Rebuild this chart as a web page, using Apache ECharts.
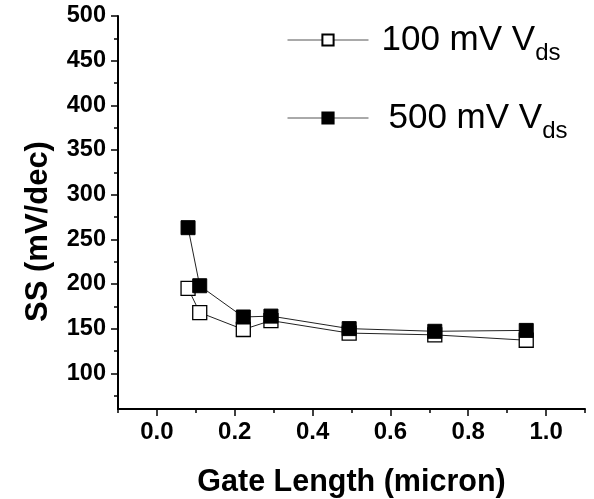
<!DOCTYPE html>
<html>
<head>
<meta charset="utf-8">
<script src="https://cdn.jsdelivr.net/npm/echarts@6/dist/echarts.min.js"></script>
<style>html,body{margin:0;padding:0;background:#fff;}#c{width:594px;height:499px;}</style>
</head>
<body>
<div id="c"></div>
<script>
// Data
var gateLength = [0.08, 0.11, 0.222, 0.293, 0.494, 0.714, 0.949];
var ss100 = [195, 168, 149, 159, 145, 143, 137];
var ss500 = [263, 198, 163, 164, 150, 147, 148];
var seriesNames = ['100 mV Vds', '500 mV Vds'];
var xMajorTicks = [0.0, 0.2, 0.4, 0.6, 0.8, 1.0];
var xMinorTicks = [-0.1, 0.1, 0.3, 0.5, 0.7, 0.9, 1.1];
var yMajorTicks = [100, 150, 200, 250, 300, 350, 400, 450, 500];
var yMinorTicks = [75, 125, 175, 225, 275, 325, 375, 425, 475];

function pairs(xs, ys) { return xs.map(function (x, i) { return [x, ys[i]]; }); }

var FONT = '"Liberation Sans", Arial, sans-serif';
var chart = echarts.init(document.getElementById('c'));

function legendRich(padLeft) {
  return {
    m: { fontSize: 35, fontFamily: FONT, color: '#000', padding: [0, 0, 0, padLeft], lineHeight: 40 },
    s: { fontSize: 24, fontFamily: FONT, color: '#000', lineHeight: 40, padding: [26, 0, 0, 0] }
  };
}

chart.setOption({
  animation: false,
  backgroundColor: '#fff',
  grid: { left: 118, right: 9, top: 16, bottom: 90, containLabel: false, outerBoundsMode: 'none' },
  legend: [
    {
      data: [seriesNames[0]], left: 282, top: 10, itemWidth: 81, itemHeight: 14,
      formatter: function () { return '{m|100 mV V}{s|ds}'; },
      lineStyle: { color: '#555', width: 1 },
      textStyle: { rich: legendRich(8) }, selectedMode: false
    },
    {
      data: [seriesNames[1]], left: 282, top: 88, itemWidth: 81, itemHeight: 14,
      formatter: function () { return '{m|500 mV V}{s|ds}'; },
      lineStyle: { color: '#555', width: 1 },
      textStyle: { rich: legendRich(15) }, selectedMode: false
    }
  ],
  xAxis: [
    {
      type: 'value', min: -0.1, max: 1.1,
      name: 'Gate Length (micron)', nameLocation: 'middle', nameGap: 58,
      nameTextStyle: { fontSize: 30.5, fontWeight: 'bold', fontFamily: FONT, color: '#000' },
      axisLine: { show: true, onZero: false, lineStyle: { color: '#000', width: 2 } },
      axisTick: { show: true, inside: false, length: 7, customValues: xMajorTicks, lineStyle: { color: '#000', width: 1.5 } },
      axisLabel: { show: true, margin: 11, customValues: xMajorTicks, fontSize: 24, fontWeight: 'bold', fontFamily: FONT, color: '#000',
        formatter: function (v) { return v.toFixed(1); } },
      splitLine: { show: false }
    },
    {
      type: 'value', min: -0.1, max: 1.1, position: 'bottom',
      axisLine: { show: false, onZero: false },
      axisTick: { show: true, length: 4, customValues: xMinorTicks, lineStyle: { color: '#000', width: 1.5 } },
      axisLabel: { show: false },
      splitLine: { show: false }
    }
  ],
  yAxis: [
    {
      type: 'value', min: 60, max: 500,
      name: 'SS (mV/dec)', nameLocation: 'middle', nameGap: 64, nameRotate: 90,
      nameTextStyle: { fontSize: 31, fontWeight: 'bold', fontFamily: FONT, color: '#000', padding: [0, 38, 0, 0] },
      axisLine: { show: true, onZero: false, lineStyle: { color: '#000', width: 2 } },
      axisTick: { show: true, length: 7, customValues: yMajorTicks, lineStyle: { color: '#000', width: 1.5 } },
      axisLabel: { show: true, margin: 12, customValues: yMajorTicks, fontSize: 23.5, fontWeight: 'bold', fontFamily: FONT, color: '#000' },
      splitLine: { show: false }
    },
    {
      type: 'value', min: 60, max: 500, position: 'left',
      axisLine: { show: false, onZero: false },
      axisTick: { show: true, length: 4, customValues: yMinorTicks, lineStyle: { color: '#000', width: 1.5 } },
      axisLabel: { show: false },
      splitLine: { show: false }
    }
  ],
  series: [
    {
      name: seriesNames[0], type: 'line', xAxisIndex: 0, yAxisIndex: 0,
      data: pairs(gateLength, ss100),
      symbol: 'rect', symbolSize: 14,
      lineStyle: { color: '#222', width: 1 },
      itemStyle: { color: '#fff', borderColor: '#000', borderWidth: 1.3 },
      emphasis: { disabled: true }
    },
    {
      name: seriesNames[1], type: 'line', xAxisIndex: 0, yAxisIndex: 0,
      data: pairs(gateLength, ss500),
      symbol: 'rect', symbolSize: 14,
      lineStyle: { color: '#222', width: 1 },
      itemStyle: { color: '#000', borderColor: '#000', borderWidth: 1 },
      emphasis: { disabled: true }
    }
  ]
});
</script>
</body>
</html>
